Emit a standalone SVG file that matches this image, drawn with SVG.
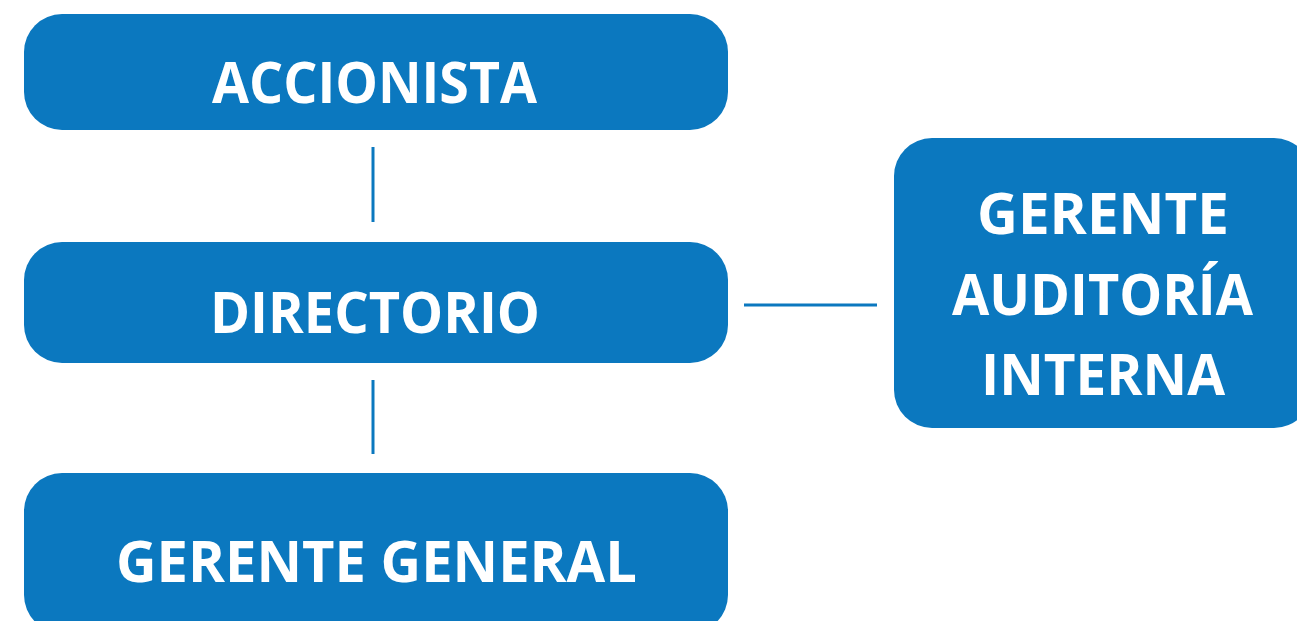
<svg xmlns="http://www.w3.org/2000/svg" width="1297" height="621" viewBox="0 0 1297 621">
<style>
.box{fill:#0B78BF}
.t{font-family:"Open Sans","Noto Sans","Liberation Sans",sans-serif;font-weight:bold;font-size:58px;fill:#fff}
.c{stroke:#0B78BF;stroke-width:3;fill:none}
</style>
<rect width="1297" height="621" fill="#fff"/>
<g id="connectors">
<line class="c" x1="373" y1="147" x2="373" y2="222"/>
<line class="c" x1="373" y1="380" x2="373" y2="454"/>
<line class="c" x1="744" y1="305" x2="877" y2="305"/>
</g>
<g id="accionista">
<rect class="box" x="24" y="14" width="704" height="116" rx="38"/>
<text class="t" x="212" y="103" textLength="325" lengthAdjust="spacingAndGlyphs">ACCIONISTA</text>
</g>
<g id="directorio">
<rect class="box" x="24" y="242" width="704" height="121" rx="38"/>
<text class="t" x="210" y="333" textLength="330" lengthAdjust="spacingAndGlyphs">DIRECTORIO</text>
</g>
<g id="gerente-general">
<rect class="box" x="24" y="473" width="704" height="160" rx="38"/>
<text class="t" x="116" y="582" textLength="521" lengthAdjust="spacingAndGlyphs">GERENTE GENERAL</text>
</g>
<g id="gerente-auditoria">
<rect class="box" x="894" y="138" width="418" height="290" rx="38"/>
<text class="t" x="977" y="234" textLength="252" lengthAdjust="spacingAndGlyphs">GERENTE</text>
<text class="t" x="952" y="315" textLength="301" lengthAdjust="spacingAndGlyphs">AUDITORÍA</text>
<text class="t" x="981" y="395" textLength="244" lengthAdjust="spacingAndGlyphs">INTERNA</text>
</g>
</svg>
